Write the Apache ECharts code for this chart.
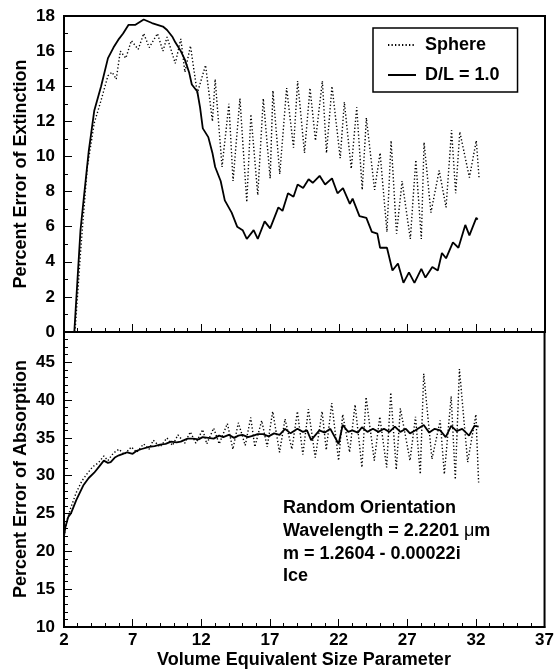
<!DOCTYPE html>
<html>
<head>
<meta charset="utf-8">
<script src="https://cdn.jsdelivr.net/npm/echarts@6/dist/echarts.min.js"></script>
<style>
html,body{margin:0;padding:0;background:#fff;}
#c{width:557px;height:671px;}
</style>
</head>
<body>
<div id="c"></div>
<script>
// ---- Data ----
var xTicks = [2, 7, 12, 17, 22, 27, 32, 37];
var extYTicks = [0, 2, 4, 6, 8, 10, 12, 14, 16, 18];
var absYTicks = [10, 15, 20, 25, 30, 35, 40, 45];
var absYMax = 49;

// Percent error of extinction, D/L = 1.0 (solid)
var extSolidX = [2.75,3.2,3.45,3.8,4.2,4.7,5.2,5.6,6.0,6.3,6.7,7.2,7.8,8.1,8.4,8.8,9.2,9.5,9.9,10.1,10.5,10.8,11.1,11.3,11.7,11.9,12.1,12.5,12.8,13.0,13.4,13.7,14.2,14.6,15.0,15.3,15.8,16.1,16.6,17.0,17.6,17.9,18.3,18.7,19.0,19.4,19.8,20.1,20.6,21.0,21.5,21.9,22.3,22.8,23.0,23.5,24.0,24.4,24.8,25.0,25.5,25.9,26.3,26.7,27.1,27.5,28.0,28.3,28.8,29.2,29.5,29.8,30.3,30.7,31.2,31.5,32.0,32.1];
var extSolidY = [0,5.8,7.7,10.3,12.6,14.0,15.6,16.2,16.7,17.0,17.5,17.5,17.8,17.7,17.6,17.5,17.4,17.2,16.8,16.5,16.0,15.5,14.8,14.1,13.7,12.8,11.6,11.1,10.2,9.4,8.6,7.5,6.8,6.0,5.8,5.3,5.8,5.3,6.3,5.9,7.1,6.9,7.9,7.7,8.4,8.2,8.7,8.5,8.9,8.4,8.75,7.9,8.2,7.3,7.6,6.6,6.5,5.7,5.6,4.8,4.8,3.5,3.9,2.8,3.4,2.8,3.6,3.1,3.7,3.5,4.5,4.2,5.1,4.8,6.1,5.5,6.5,6.4];

// Percent error of extinction, Sphere (dotted)
var extSphereX = [2.8,3.2,3.5,3.7,4.2,4.7,5.2,5.5,5.8,6.1,6.5,6.9,7.2,7.4,7.8,8.2,8.8,9.2,9.5,10.1,10.5,10.8,11.2,11.7,12.3,12.8,13.0,13.5,14.0,14.3,14.8,15.3,15.6,16.1,16.5,17.0,17.2,17.7,18.2,18.7,19.0,19.5,19.9,20.3,20.8,21.1,21.5,22.1,22.4,22.9,23.3,23.7,24.0,24.6,25.0,25.5,25.8,26.2,26.6,27.2,27.6,28.0,28.2,28.7,29.3,29.8,30.2,30.5,30.8,31.5,32.0,32.2];
var extSphereY = [0,4.5,7.5,9.4,11.9,13.2,14.6,14.8,14.4,16.0,15.6,16.6,16.3,16.1,17.0,16.2,17.0,16.0,16.8,15.3,16.7,14.8,16.3,13.6,15.2,12.0,14.4,9.4,13.0,8.6,13.3,7.4,12.4,7.8,13.3,8.75,13.75,9.0,13.9,10.5,14.3,10.2,13.9,10.9,14.3,10.2,14.0,9.9,13.1,9.3,12.8,8.1,12.2,8.1,10.2,5.7,10.9,5.6,8.6,5.3,9.8,5.3,10.8,6.8,9.2,7.1,11.5,7.9,11.4,8.8,10.9,8.8];

// Percent error of absorption, D/L = 1.0 (solid)
var absSolidX = [2.0,2.1,2.3,2.5,2.9,3.4,3.8,4.2,4.6,4.9,5.2,5.4,5.7,6.0,6.3,6.6,7.0,7.3,7.6,8.2,8.6,9.0,9.4,9.8,10.2,10.5,11.0,11.4,11.8,12.1,12.5,12.9,13.3,13.6,14.0,14.4,14.7,15.0,15.4,15.8,16.1,16.5,16.9,17.3,17.7,18.1,18.5,19.0,19.4,19.7,20.0,20.6,21.0,21.4,22.0,22.3,22.7,23.0,23.4,23.7,24.1,24.5,24.9,25.3,25.7,26.1,26.5,26.9,27.2,27.6,28.2,28.6,29.0,29.4,29.8,30.2,30.6,31.0,31.5,31.9,32.2];
var absSolidY = [22.0,23.2,24.5,25.0,26.8,28.7,29.7,30.4,31.3,32.0,31.7,31.8,32.4,32.7,32.9,33.1,32.9,33.3,33.5,33.8,33.9,34.1,34.2,34.5,34.4,34.5,34.9,34.9,34.8,35.1,35.0,34.9,35.3,35.1,35.4,35.0,35.3,35.4,35.1,35.3,35.5,35.5,35.2,35.6,35.4,36.2,35.6,36.2,35.8,36.0,34.7,36.0,35.7,36.2,34.2,36.7,35.8,36.0,35.7,36.4,35.8,36.2,35.8,36.2,35.8,36.5,35.8,36.2,35.6,36.0,36.7,35.7,36.2,36.0,35.1,36.6,35.9,36.2,35.3,36.6,36.5];

// Percent error of absorption, Sphere (dotted)
var absSphereX = [2.0,2.2,2.5,2.9,3.3,3.7,4.1,4.5,4.9,5.2,5.6,6.0,6.4,6.9,7.3,7.8,8.2,8.5,9.0,9.5,9.9,10.3,10.8,11.2,11.6,12.1,12.4,12.9,13.3,13.9,14.3,14.7,15.2,15.6,15.9,16.4,16.8,17.2,17.7,18.1,18.6,19.0,19.4,19.8,20.3,20.8,21.1,21.5,22.0,22.3,22.8,23.2,23.7,24.0,24.6,25.0,25.5,25.8,26.2,26.5,27.2,27.6,27.95,28.2,28.8,29.4,29.7,30.2,30.5,30.8,31.4,32.0,32.2];
var absSphereY = [22.0,24.0,25.8,27.8,29.3,30.3,31.2,31.7,32.6,32.0,33.0,33.5,32.8,33.8,33.1,34.2,33.5,34.7,33.8,35.0,34.0,35.4,34.3,35.8,34.3,36.1,34.2,36.3,34.2,36.9,33.5,37.0,34.0,37.7,33.8,37.3,33.8,38.5,33.1,37.5,33.5,38.5,32.8,38.8,32.4,38.5,33.4,39.6,32.0,38.1,33.1,39.4,31.1,40.4,32.0,37.8,31.1,41.0,30.8,38.9,32.0,37.8,30.2,43.5,32.2,37.3,30.2,40.5,29.5,44.1,31.8,38.1,29.1];

function zip(xs, ys){ var o=[]; for(var i=0;i<xs.length;i++){o.push([xs[i], ys[i]]);} return o; }

var FONT = '"Liberation Sans", Arial, Helvetica, sans-serif';
var chart = echarts.init(document.getElementById('c'), null, {renderer:'canvas'});

function xAxisCfg(gridIndex, showLabels){
  return {
    type:'value', gridIndex:gridIndex, min:xTicks[0], max:xTicks[xTicks.length-1], interval:5,
    axisLine:{show:true, onZero:false, lineStyle:{color:'#000', width:2}},
    axisTick:{show:true, inside:true, length:8, lineStyle:{color:'#000', width:1}},
    minorTick:{show:true, splitNumber:5, length:4, lineStyle:{color:'#000', width:1}},
    splitLine:{show:false},
    axisLabel:{show:showLabels, color:'#000', fontSize:17, fontWeight:'bold', fontFamily:FONT, margin:5}
  };
}
function yAxisCfg(gridIndex, ticks, maxV, minorSplit){
  return {
    type:'value', gridIndex:gridIndex, min:ticks[0], max:maxV,
    interval:ticks[1]-ticks[0],
    axisLine:{show:true, onZero:false, lineStyle:{color:'#000', width:2}},
    axisTick:{show:true, inside:true, length:8, lineStyle:{color:'#000', width:1}},
    minorTick:{show:true, splitNumber:minorSplit, length:4, lineStyle:{color:'#000', width:1}},
    splitLine:{show:false},
    axisLabel:{color:'#000', fontSize:17, fontWeight:'bold', fontFamily:FONT, margin:9,
      showMaxLabel: gridIndex===0}
  };
}

var solidStyle = {color:'#000', width:1.8, type:'solid'};
var dotStyle = {color:'#000', width:1.4, type:[1.3, 2.2]};

chart.setOption({
  animation:false,
  backgroundColor:'#fff',
  textStyle:{fontFamily:FONT},
  grid:[
    {left:64, top:16, width:481, height:316, show:true, borderColor:'#000', borderWidth:2, backgroundColor:'rgba(0,0,0,0)'},
    {left:64, top:332, width:481, height:295, show:true, borderColor:'#000', borderWidth:2, backgroundColor:'rgba(0,0,0,0)'}
  ],
  xAxis:[xAxisCfg(0,false), xAxisCfg(1,true)],
  yAxis:[yAxisCfg(0, extYTicks, extYTicks[extYTicks.length-1], 2), yAxisCfg(1, absYTicks, absYMax, 5)],
  legend:{
    left:373, top:28, orient:'vertical',
    data:['Sphere','D/L = 1.0'],
    itemWidth:28, itemHeight:14, itemGap:12,
    padding:[8, 18, 8, 14],
    borderColor:'#000', borderWidth:1.5, backgroundColor:'#fff',
    itemStyle:{color:'rgba(0,0,0,0)', borderWidth:0, opacity:0},
    textStyle:{color:'#000', fontSize:18, fontWeight:'bold', fontFamily:FONT, padding:[0,0,0,4]}
  },
  graphic:[
    {type:'text', x:21, y:174, rotation:Math.PI/2,
      style:{text:'Percent Error of Extinction', fill:'#000', font:'bold 18px '+FONT, textAlign:'center', textVerticalAlign:'middle'}},
    {type:'text', x:21, y:479, rotation:Math.PI/2,
      style:{text:'Percent Error of Absorption', fill:'#000', font:'bold 18px '+FONT, textAlign:'center', textVerticalAlign:'middle'}},
    {type:'text', x:304, y:660,
      style:{text:'Volume Equivalent Size Parameter', fill:'#000', font:'bold 18px '+FONT, textAlign:'center', textVerticalAlign:'middle'}},
    {type:'text', x:283, y:497,
      style:{text:'Random Orientation\nWavelength = 2.2201 {u|\u03bc}m\nm = 1.2604 - 0.00022i\nIce',
        fill:'#000', font:'bold 18px '+FONT, lineHeight:22.7, textAlign:'left',
        rich:{u:{fontWeight:'normal', fontSize:18, fontFamily:FONT, fill:'#000'}}}}
  ],
  series:[
    {name:'Sphere', type:'line', xAxisIndex:0, yAxisIndex:0, symbol:'none', lineStyle:dotStyle, itemStyle:{color:'#000'}, data:zip(extSphereX, extSphereY), z:3},
    {name:'D/L = 1.0', type:'line', xAxisIndex:0, yAxisIndex:0, symbol:'none', lineStyle:solidStyle, itemStyle:{color:'#000'}, data:zip(extSolidX, extSolidY), z:4},
    {name:'Sphere', type:'line', xAxisIndex:1, yAxisIndex:1, symbol:'none', lineStyle:dotStyle, itemStyle:{color:'#000'}, data:zip(absSphereX, absSphereY), z:3},
    {name:'D/L = 1.0', type:'line', xAxisIndex:1, yAxisIndex:1, symbol:'none', lineStyle:solidStyle, itemStyle:{color:'#000'}, data:zip(absSolidX, absSolidY), z:4}
  ]
});
</script>
</body>
</html>
